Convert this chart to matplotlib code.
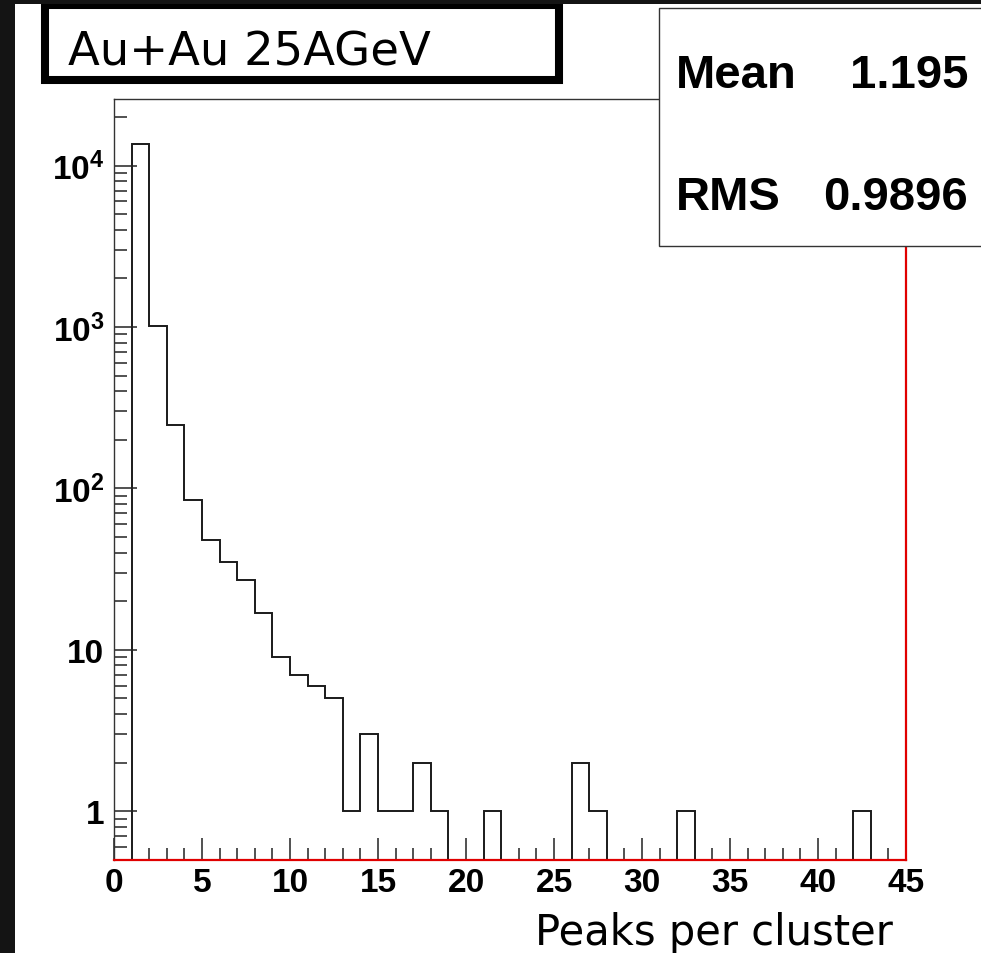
import numpy as np
import matplotlib
matplotlib.use('Agg')
import matplotlib.pyplot as plt
from matplotlib.patches import Rectangle
from matplotlib.ticker import FixedLocator, FixedFormatter, LogLocator, NullFormatter, MultipleLocator

plt.rcParams['mathtext.fontset'] = 'custom'
plt.rcParams['mathtext.rm'] = 'Liberation Sans'
plt.rcParams['mathtext.bf'] = 'Liberation Sans:bold'

#%% histogram contents, unit bins from 0 to 45
edges = np.arange(0, 46)
counts = np.array([0, 13570, 1020, 246, 85, 48, 35, 27, 17, 9,
                   7, 6, 5, 1, 3, 1, 1, 2, 1, 0,
                   0, 1, 0, 0, 0, 0, 2, 1, 0, 0,
                   0, 0, 1, 0, 0, 0, 0, 0, 0, 0,
                   0, 0, 1, 0, 0])
y_ticks = [1, 10, 100, 1000, 10000]
y_labels = ['1', '10', r'$\mathbf{10^{2}}$', r'$\mathbf{10^{3}}$', r'$\mathbf{10^{4}}$']
x_ticks = np.arange(0, 50, 5)
title = 'Au+Au 25AGeV'
xlabel = 'Peaks per cluster'
stat_names = ['Mean', 'RMS']
stat_values = ['1.195', '0.9896']
ymin, ymax = 0.5, 2.59e4

W, H = 981, 954
fig = plt.figure(figsize=(W/100, H/100), dpi=100)
fig.patch.set_facecolor('white')

def fx(x):
    return x / W

def fy(y):
    return 1 - y / H

ax = fig.add_axes([fx(114), fy(860.7), (906 - 114)/W, (860.7 - 100)/H])
ax.stairs(np.maximum(counts, ymin), edges, baseline=ymin, color='#1a1a1a', lw=1.4)
ax.set_yscale('log')
ax.set_xlim(0, 45)
ax.set_ylim(ymin, ymax)

ax.yaxis.set_major_locator(FixedLocator(y_ticks))
ax.yaxis.set_major_formatter(FixedFormatter(y_labels))
ax.yaxis.set_minor_locator(LogLocator(base=10, subs=np.arange(2, 10)))
ax.yaxis.set_minor_formatter(NullFormatter())
ax.xaxis.set_major_locator(FixedLocator(x_ticks))
ax.xaxis.set_minor_locator(MultipleLocator(1))

for s in ['left', 'top']:
    ax.spines[s].set_color('#333333')
    ax.spines[s].set_linewidth(1.0)
for s in ['right', 'bottom']:
    ax.spines[s].set_color('#e00000')
    ax.spines[s].set_linewidth(1.6)

ax.tick_params(axis='both', which='both', direction='in', color='#222222', width=1.1,
               top=False, right=False)
ax.tick_params(axis='x', which='major', length=16, pad=5)
ax.tick_params(axis='x', which='minor', length=8.5)
ax.tick_params(axis='y', which='major', length=16.5, pad=7)
ax.tick_params(axis='y', which='minor', length=9)
for lab in ax.get_xticklabels() + ax.get_yticklabels():
    lab.set_fontfamily('Liberation Sans')
    lab.set_fontweight('bold')
    lab.set_fontsize(24)

# dark slide border
fig.patches.append(Rectangle((0, 0), fx(15), 1, transform=fig.transFigure,
                             facecolor='#141414', edgecolor='none', zorder=10))
fig.patches.append(Rectangle((0, fy(5)), 1, 5/H, transform=fig.transFigure,
                             facecolor='#141414', edgecolor='none', zorder=10))

# title box
fig.patches.append(Rectangle((fx(45), fy(81)), (559 - 45)/W, (81 - 6)/H, transform=fig.transFigure,
                             facecolor='white', edgecolor='black', lw=5.8, zorder=5))
fig.text(fx(68), fy(65), title, family='DejaVu Sans', fontsize=33.5,
         ha='left', va='baseline', zorder=6)

# statistics box
fig.patches.append(Rectangle((fx(659), fy(247)), (995 - 659)/W, (247 - 9)/H, transform=fig.transFigure,
                             facecolor='white', edgecolor='#333333', lw=1.0, zorder=5))
for name, val, yb in zip(stat_names, stat_values, [88.3, 210]):
    fig.text(fx(675.7), fy(yb), name, family='Liberation Sans', weight='bold',
             fontsize=34, ha='left', va='baseline', zorder=6)
    fig.text(fx(968.3), fy(yb), val, family='Liberation Sans', weight='bold',
             fontsize=34, ha='right', va='baseline', zorder=6)

fig.text(fx(893.3), fy(945), xlabel, family='DejaVu Sans', fontsize=30,
         ha='right', va='baseline')

fig.savefig('out.png', dpi=100)
